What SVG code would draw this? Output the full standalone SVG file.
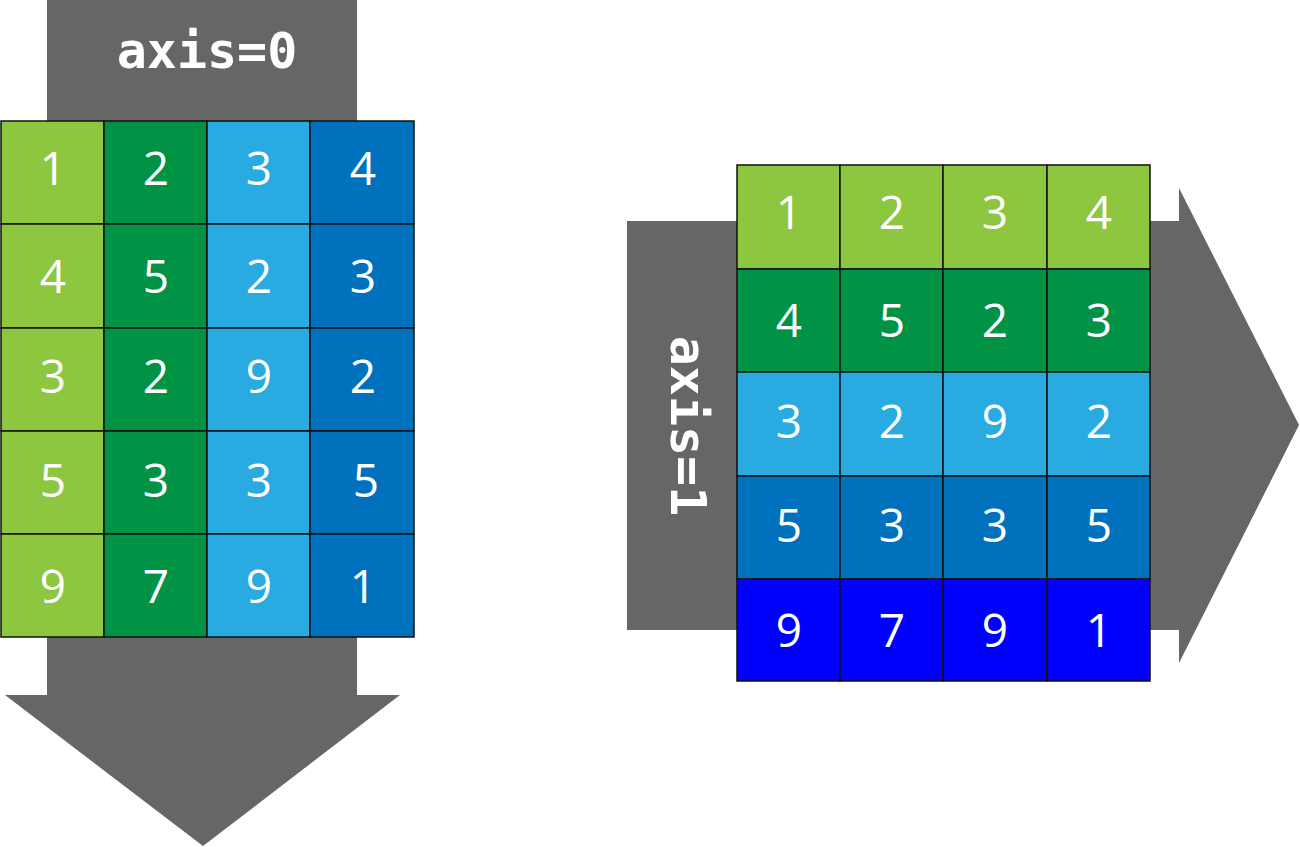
<svg xmlns="http://www.w3.org/2000/svg" width="1300" height="847" viewBox="0 0 1300 847">
<style>
.c{stroke:#111;stroke-width:1.5}
.g1{fill:#8dc63f}.g2{fill:#009245}.b1{fill:#29abe2}.b2{fill:#0071bc}.b3{fill:#0000ff}
.n{font-family:"Open Sans","DejaVu Sans",sans-serif;font-size:46px;fill:#fff;text-anchor:middle}
.ax{font-family:"DejaVu Sans Mono","Liberation Mono",monospace;font-weight:bold;font-size:50px;fill:#fff;text-anchor:middle}
.arr{fill:#666}
</style>
<g id="connectors">
<polygon id="arrow-axis0" class="arr" points="47,0 357,0 357,695 400,695 203,846 5,695 47,695"/>
<polygon id="arrow-axis1" class="arr" points="627,221 1179,221 1179,188 1299,425 1179,663 1179,630 627,630"/>
</g>
<g id="label-axis0"><text class="ax" x="207" y="68">axis=0</text></g>
<g id="label-axis1"><text class="ax" transform="translate(671,426) rotate(90)" x="0" y="0">axis=1</text></g>
<g id="grid-left">
<rect class="c g1" x="1" y="121" width="103" height="103"/><rect class="c g2" x="104" y="121" width="103" height="103"/><rect class="c b1" x="207" y="121" width="103" height="103"/><rect class="c b2" x="310" y="121" width="104" height="103"/>
<rect class="c g1" x="1" y="224" width="103" height="104"/><rect class="c g2" x="104" y="224" width="103" height="104"/><rect class="c b1" x="207" y="224" width="103" height="104"/><rect class="c b2" x="310" y="224" width="104" height="104"/>
<rect class="c g1" x="1" y="328" width="103" height="103"/><rect class="c g2" x="104" y="328" width="103" height="103"/><rect class="c b1" x="207" y="328" width="103" height="103"/><rect class="c b2" x="310" y="328" width="104" height="103"/>
<rect class="c g1" x="1" y="431" width="103" height="103"/><rect class="c g2" x="104" y="431" width="103" height="103"/><rect class="c b1" x="207" y="431" width="103" height="103"/><rect class="c b2" x="310" y="431" width="104" height="103"/>
<rect class="c g1" x="1" y="534" width="103" height="103"/><rect class="c g2" x="104" y="534" width="103" height="103"/><rect class="c b1" x="207" y="534" width="103" height="103"/><rect class="c b2" x="310" y="534" width="104" height="103"/>
<text class="n" x="53" y="185">1</text><text class="n" x="156" y="185">2</text><text class="n" x="259" y="185">3</text><text class="n" x="363" y="185">4</text>
<text class="n" x="53" y="293">4</text><text class="n" x="156" y="293">5</text><text class="n" x="259" y="293">2</text><text class="n" x="363" y="293">3</text>
<text class="n" x="53" y="393">3</text><text class="n" x="156" y="393">2</text><text class="n" x="259" y="393">9</text><text class="n" x="363" y="393">2</text>
<text class="n" x="53" y="497">5</text><text class="n" x="156" y="497">3</text><text class="n" x="259" y="497">3</text><text class="n" x="366" y="497">5</text>
<text class="n" x="53" y="603">9</text><text class="n" x="156" y="603">7</text><text class="n" x="259" y="603">9</text><text class="n" x="363" y="603">1</text>
</g>
<g id="grid-right">
<rect class="c g1" x="737" y="165" width="103" height="104"/><rect class="c g1" x="840" y="165" width="103" height="104"/><rect class="c g1" x="943" y="165" width="104" height="104"/><rect class="c g1" x="1047" y="165" width="103" height="104"/>
<rect class="c g2" x="737" y="269" width="103" height="103"/><rect class="c g2" x="840" y="269" width="103" height="103"/><rect class="c g2" x="943" y="269" width="104" height="103"/><rect class="c g2" x="1047" y="269" width="103" height="103"/>
<rect class="c b1" x="737" y="372" width="103" height="104"/><rect class="c b1" x="840" y="372" width="103" height="104"/><rect class="c b1" x="943" y="372" width="104" height="104"/><rect class="c b1" x="1047" y="372" width="103" height="104"/>
<rect class="c b2" x="737" y="476" width="103" height="103"/><rect class="c b2" x="840" y="476" width="103" height="103"/><rect class="c b2" x="943" y="476" width="104" height="103"/><rect class="c b2" x="1047" y="476" width="103" height="103"/>
<rect class="c b3" x="737" y="579" width="103" height="102"/><rect class="c b3" x="840" y="579" width="103" height="102"/><rect class="c b3" x="943" y="579" width="104" height="102"/><rect class="c b3" x="1047" y="579" width="103" height="102"/>
<text class="n" x="789" y="229">1</text><text class="n" x="892" y="229">2</text><text class="n" x="995" y="229">3</text><text class="n" x="1099" y="229">4</text>
<text class="n" x="789" y="337">4</text><text class="n" x="892" y="337">5</text><text class="n" x="995" y="337">2</text><text class="n" x="1099" y="337">3</text>
<text class="n" x="789" y="438">3</text><text class="n" x="892" y="438">2</text><text class="n" x="995" y="438">9</text><text class="n" x="1099" y="438">2</text>
<text class="n" x="789" y="542">5</text><text class="n" x="892" y="542">3</text><text class="n" x="995" y="542">3</text><text class="n" x="1099" y="542">5</text>
<text class="n" x="789" y="647">9</text><text class="n" x="892" y="647">7</text><text class="n" x="995" y="647">9</text><text class="n" x="1099" y="647">1</text>
</g>
</svg>
